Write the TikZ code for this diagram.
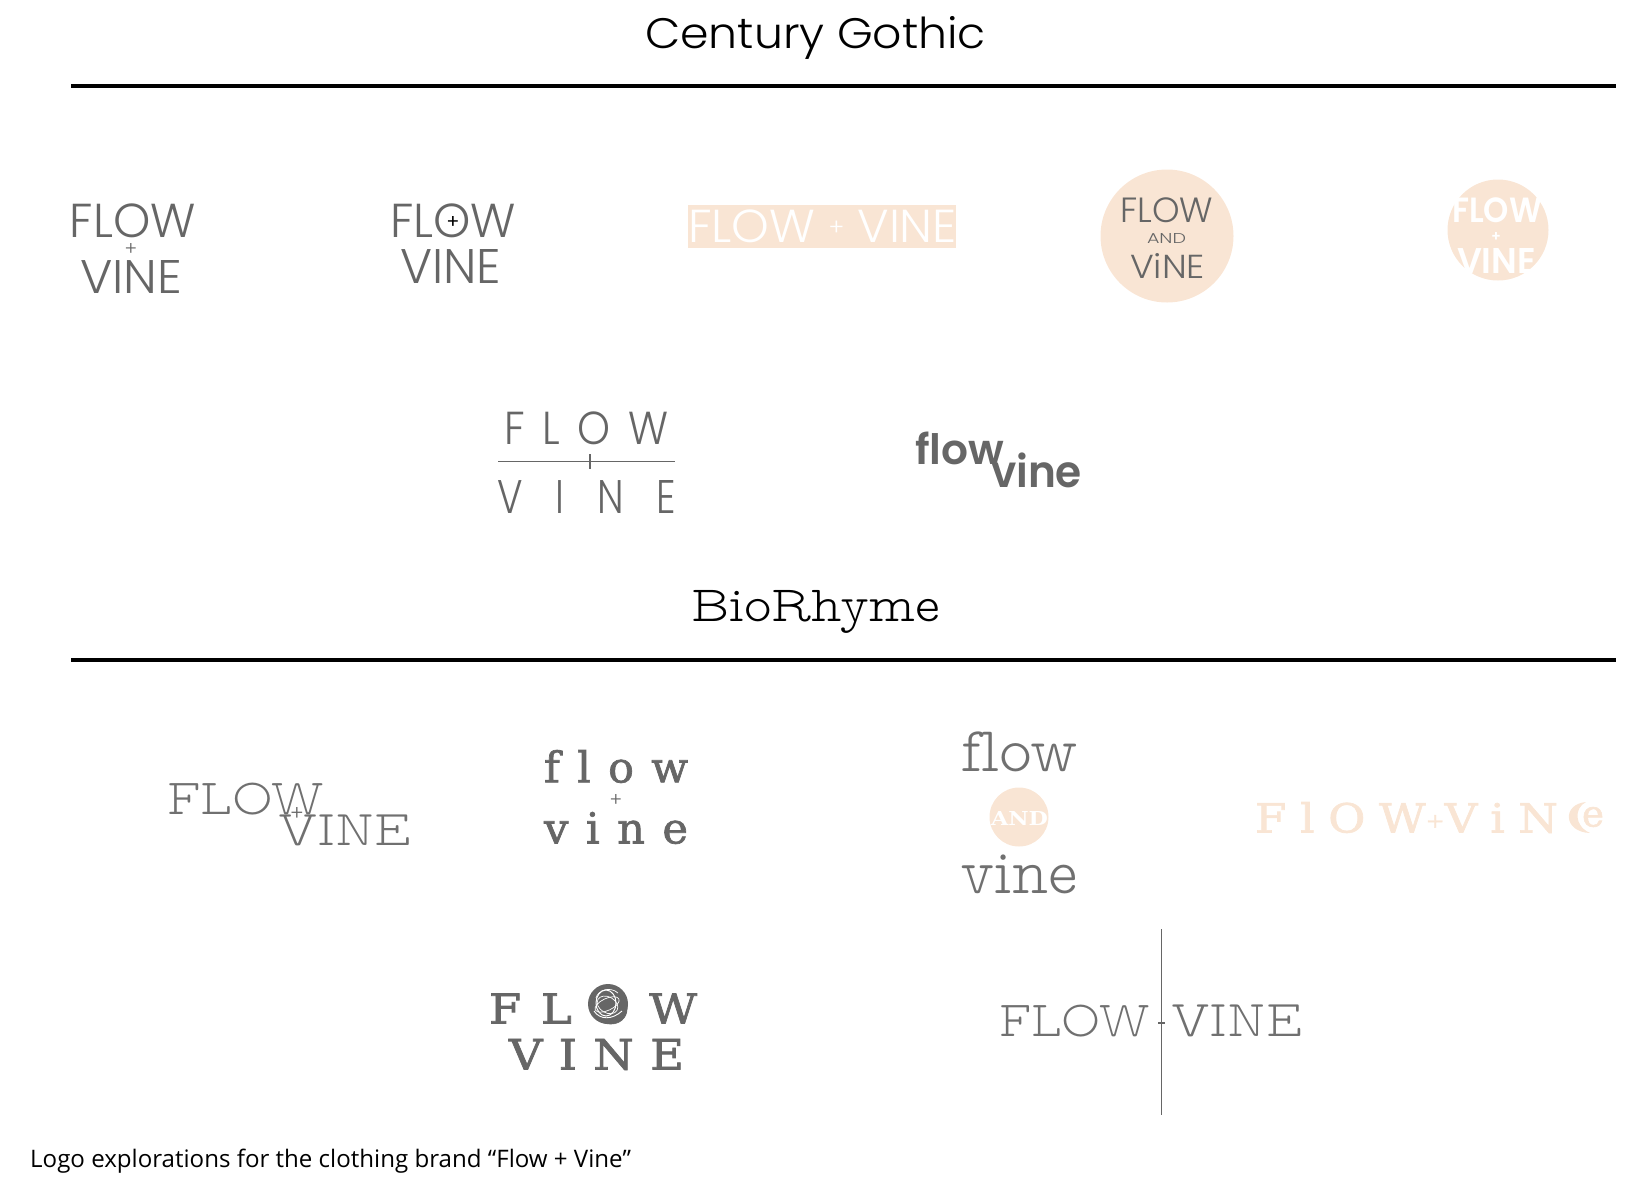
\documentclass[tikz,border=0pt]{standalone}
\usepackage{fontspec}
\usepackage{graphicx}
\setmainfont{Open Sans}
\newfontfamily\cg[UprightFont={* Light}]{Poppins}
\newfontfamily\cgreg{Poppins}
\newfontfamily\cgbold[UprightFont={* SemiBold}]{Poppins}
\newfontfamily\thinslab[FakeBold=-0.6,Ligatures=NoCommon]{Latin Modern Mono Prop Light}
\newfontfamily\titleslab{Latin Modern Mono Prop Light}
\newfontfamily\boldslab[UprightFont={* Bold}]{DejaVu Serif}
\newfontfamily\midslab[FakeBold=1.6,Ligatures=NoCommon]{DejaVu Serif}
\definecolor{logogrey}{HTML}{666666}
\definecolor{thingrey}{HTML}{707070}
\definecolor{peach}{HTML}{F9E5D4}
\tikzset{
  x=1pt,y=-1pt,
  logofit/.style={inner sep=0pt,outer sep=0pt,anchor=south west},
  rulebar/.style={line width=4pt,black},
  logoline/.style={line width=1.5pt,logogrey},
  pe/.style={fill=peach,draw=none}
}
% name, font, x0, ytop, x1, ybottom, text
\newcommand{\fitted}[8][logogrey]{%
  \pgfmathsetlengthmacro{\fw}{#6-#4}%
  \pgfmathsetlengthmacro{\fh}{#7-#5}%
  \node[logofit,text=#1] (#2) at (#4,#7) {\resizebox*{\fw}{\fh}{#3{#8}}};}
% plus sign of a given size round a centre: name, font, cx, cy, size
\newcommand{\plusat}[6][logogrey]{%
  \node[inner sep=0pt,outer sep=0pt,text=#1] (#2) at (#4,#5) {\resizebox*{!}{#6pt}{#3{+}}};}
\newcommand{\lsp}[1]{\addfontfeature{LetterSpace=#1}}
\newcommand{\smallplus}[1]{\raisebox{#1pt}[0pt][0pt]{\scalebox{0.5}{+}}}
\begin{document}
\begin{tikzpicture}
\useasboundingbox (0,0) rectangle (1650,1200);
% titles and rules
\fitted[black]{t1}{\cg}{645}{16}{986}{59}{Century Gothic}
\fitted[black]{t2}{\titleslab}{691}{590}{940}{633}{BioRhyme}
\coordinate (r1a) at (71,85.5); \coordinate (r1b) at (1616,85.5);
\coordinate (r2a) at (71,660); \coordinate (r2b) at (1616,660);
\draw[rulebar] (r1a) -- (r1b);
\draw[rulebar] (r2a) -- (r2b);
\node[inner sep=0pt,anchor=west,font=\fontsize{24.1}{28}\selectfont] (cap) at (30,1161) {Logo explorations for the clothing brand “Flow + Vine”};
% logo 1
\fitted{a1}{\cg}{70}{204}{196}{238}{FLOW}
\plusat{a2}{\cg}{131}{249}{12}
\fitted{a3}{\cg}{80}{260}{182}{293}{VINE}
% logo 2
\fitted{b1}{\cg}{390}{204}{516}{238}{FLOW}
\plusat[black]{b2}{\cgreg}{453}{222}{12}
\fitted{b3}{\cg}{400}{249}{501}{283}{VINE}
% logo 3
\fill[pe] (688,205) rectangle (956,248);
\fitted[white]{c1}{\cg}{688}{210}{957}{243}{FLOW \smallplus{1.6} VINE}
% logo 4
\node[circle,pe,minimum size=133pt,inner sep=0pt] (d) at (1167,236) {};
\fitted{d1}{\cg}{1120}{198}{1213}{223}{FLOW}
\fitted{d2}{\cg}{1147}{233}{1186}{243}{AND}
\fitted{d3}{\cg}{1130}{253}{1205}{278}{ViNE}
% logo 5
\node[circle,pe,minimum size=101pt,inner sep=0pt] (e) at (1498,230) {};
\fitted[white]{e1}{\cgbold}{1452}{198}{1542}{223}{FLOW}
\plusat[white]{e2}{\cgbold}{1496}{237}{9}
\fitted[white]{e3}{\cgbold}{1457}{248}{1536}{273}{VINE}
% logo 6
\fitted{f1}{\cg\lsp{42}}{504}{412}{668}{445}{FLOW}
\coordinate (fa) at (498,461.5); \coordinate (fb) at (675,461.5);
\coordinate (fc) at (590,454); \coordinate (fd) at (590,469);
\draw[logoline] (fa) -- (fb);
\draw[logoline] (fc) -- (fd);
\fitted{f3}{\cg\lsp{85}}{497}{480}{676}{513}{VINE}
% logo 7
\fitted{g1}{\cgbold}{915}{432}{1004}{465}{flow}
\fitted{g2}{\cgbold}{991}{453}{1082}{488}{vine}
% logo 8
\fitted[thingrey]{h1}{\thinslab}{167}{783}{324}{815}{FLOW}
\fitted[thingrey]{h3}{\thinslab}{278}{815}{411}{846}{VINE}
\plusat{h2}{\cg}{297}{814}{13}
% logo 9
\fitted{i1}{\midslab\lsp{40}}{544}{750}{688}{783}{flow}
\plusat{i2}{\cg}{616}{800}{12}
\fitted{i3}{\midslab\lsp{40}}{544}{812}{688}{844}{vine}
% logo 10
\fitted[thingrey]{j1}{\thinslab}{961}{732}{1078}{772}{flow}
\node[circle,pe,minimum size=59pt,inner sep=0pt] (j) at (1019,817) {};
\fitted[white]{j2}{\boldslab}{991}{811}{1048}{825}{AND}
\fitted[thingrey]{j3}{\thinslab}{960}{855}{1078}{894}{vine}
% logo 11
\fitted[peach]{k1}{\midslab\lsp{30}}{1255}{802}{1558}{833}{FlOW\smallplus{1.2}ViN}
\fill[pe] (1586,802) .. controls (1562,804) and (1563,832) .. (1590,833)
  .. controls (1574,826) and (1574,808) .. (1586,802);
\fitted[peach]{k2}{\midslab}{1582}{807}{1604}{827}{e}
% logo 12
\fitted{l1}{\midslab\lsp{42}}{489}{993}{697}{1024}{FLOW}
\fill[logogrey] (608,1004) circle (20);
\draw[white,line width=1pt] (606,1003) ellipse (10 and 13);
\draw[white,line width=0.7pt,rotate around={25:(608,1004)}] (607,1004) ellipse (13 and 6);
\draw[white,line width=0.7pt,rotate around={-30:(608,1004)}] (608,1005) ellipse (11 and 8);
\draw[white,line width=0.9pt] (594,1011) .. controls (600,1020) and (612,1020) .. (622,1011);
\draw[white,line width=0.7pt] (596,998) .. controls (598,990) and (610,986) .. (618,993);
\fitted{l3}{\midslab\lsp{35}}{509}{1039}{684}{1070}{VINE}
% logo 13
\fitted[thingrey]{m1}{\thinslab}{999}{1005}{1150}{1037}{FLOW}
\fitted[thingrey]{m3}{\thinslab}{1171}{1005}{1302}{1037}{VINE}
\coordinate (ma) at (1161.4,929); \coordinate (mb) at (1161.4,1115);
\coordinate (mc) at (1158,1023); \coordinate (md) at (1165,1023);
\draw[logoline,line width=1.3pt] (ma) -- (mb);
\draw[logoline,line width=1.3pt] (mc) -- (md);
\end{tikzpicture}
\end{document}
